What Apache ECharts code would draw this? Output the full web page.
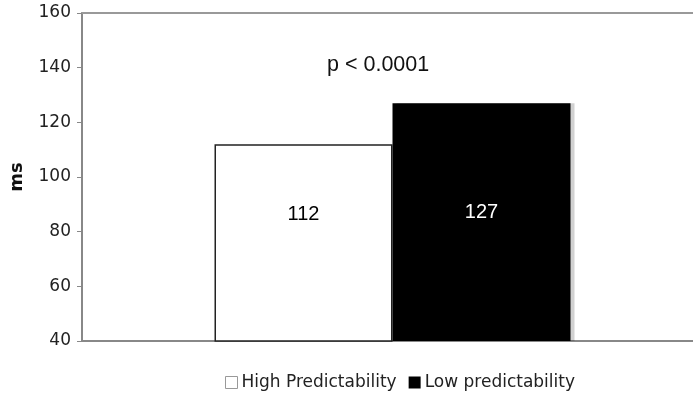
<!DOCTYPE html>
<html><head><meta charset="utf-8">
<script src="https://cdn.jsdelivr.net/npm/echarts@6/dist/echarts.min.js"></script>
<style>html,body{margin:0;padding:0;background:#fff}#c{width:693px;height:401px}</style>
</head><body><div id="c"></div>
<script>
const categories = [''];
const seriesNames = ['High Predictability', 'Low predictability'];
const highValues = [112];
const lowValues = [127];
const yTicks = [40, 60, 80, 100, 120, 140, 160];
const annotation = 'p < 0.0001';

const chart = echarts.init(document.getElementById('c'));
chart.setOption({
  animation: false,
  grid: { left: 82, top: 13, right: -10, bottom: 60, outerBoundsMode: 'none', containLabel: false },
  xAxis: [
    { type: 'category', data: categories, axisLine: { lineStyle: { color: '#888', width: 2 } },
      axisTick: { show: false }, axisLabel: { show: false } },
    { type: 'category', data: categories, position: 'top', axisLine: { lineStyle: { color: '#999', width: 2 } },
      axisTick: { show: false }, axisLabel: { show: false } }
  ],
  yAxis: {
    type: 'value', min: yTicks[0], max: yTicks[yTicks.length - 1], interval: 20,
    name: 'ms', nameLocation: 'middle', nameGap: 56, nameRotate: 90,
    nameTextStyle: { fontFamily: 'DejaVu Sans', fontWeight: 'bold', fontSize: 18, color: '#111' },
    axisLine: { show: true, lineStyle: { color: '#888', width: 2 } },
    axisTick: { show: true, length: 5, lineStyle: { color: '#888' } },
    axisLabel: { fontFamily: 'DejaVu Sans', fontSize: 17, color: '#222', margin: 11 },
    splitLine: { show: false }
  },
  legend: {
    bottom: 5, left: 220, icon: 'rect', itemWidth: 12, itemHeight: 12, itemGap: 12,
    textStyle: { fontFamily: 'DejaVu Sans', fontSize: 17, color: '#222', padding: [0, 0, 0, -1] },
    data: [
      { name: seriesNames[0], itemStyle: { color: '#fff', borderColor: '#999', borderWidth: 1 } },
      { name: seriesNames[1], itemStyle: { color: '#000', borderWidth: 0 } }
    ]
  },
  graphic: [{
    type: 'text', left: 327, top: 54,
    style: { text: annotation, font: '21.5px "Liberation Sans", Arial, sans-serif', fill: '#111' }
  }],
  series: [
    { name: seriesNames[0], type: 'bar', data: highValues, barWidth: 178, barGap: '0%',
      itemStyle: { color: '#fff', borderColor: '#222', borderWidth: 1.5 },
      label: { show: true, position: ['50%', 70], align: 'center', verticalAlign: 'middle',
        fontFamily: 'Liberation Sans', fontSize: 20, color: '#000' } },
    { name: seriesNames[1], type: 'bar', data: lowValues, barWidth: 178, barGap: '0%',
      itemStyle: { color: '#000', shadowColor: 'rgba(0,0,0,0.18)', shadowOffsetX: 4, shadowBlur: 0 },
      label: { show: true, position: ['50%', 109], align: 'center', verticalAlign: 'middle',
        fontFamily: 'Liberation Sans', fontSize: 20, color: '#fff' } }
  ]
});
</script></body></html>
